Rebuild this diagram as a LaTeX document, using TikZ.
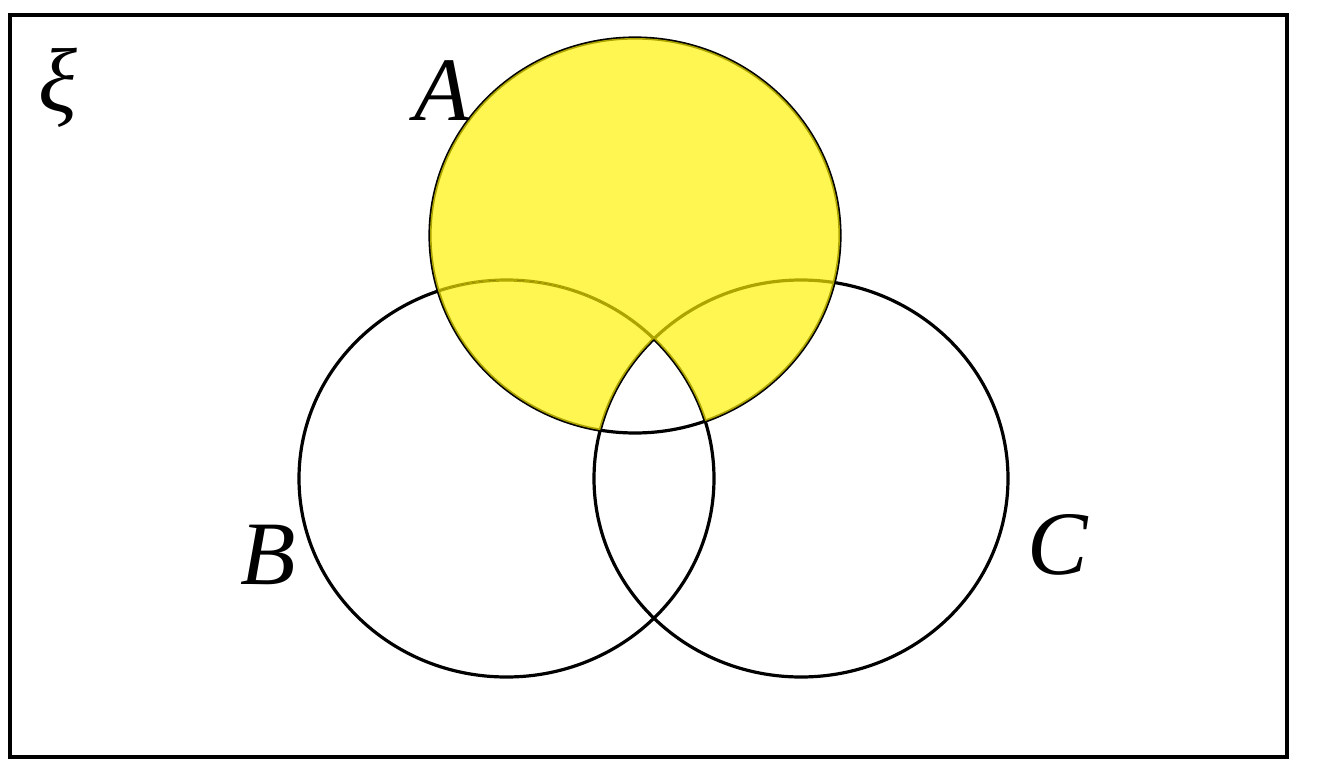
\documentclass[tikz,border=0pt]{standalone}
\usepackage{fontspec}
\setmainfont{Liberation Serif}
\begin{document}
\begin{tikzpicture}[x=0.75pt,y=-0.75pt,
  setline/.style={line width=2.4pt},
  lbl/.style={font=\fontsize{68}{70}\selectfont\itshape, inner sep=0pt},
  yfill/.style={fill=yellow, fill opacity=0.68}]
\useasboundingbox (0,0) rectangle (1334,770);
\def\pathA{(635,235.5) ellipse [x radius=205, y radius=197.5]}
\def\pathB{(506.5,478.5) ellipse [x radius=207.5, y radius=198.5]}
\def\pathC{(801,478.5) ellipse [x radius=207, y radius=198.5]}
\node[draw, line width=3pt, minimum width=1277*0.75pt, minimum height=742*0.75pt, inner sep=0pt] (U) at (648.5,386) {};
\draw[setline] \pathA;
\draw[setline] \pathB;
\draw[setline] \pathC;
% yellow region: A minus (B and C)
\begin{scope}
  \clip \pathA;
  \fill[yfill, even odd rule] (0,0) rectangle (1334,770) \pathB;
\end{scope}
\begin{scope}
  \clip \pathA;
  \clip \pathB;
  \fill[yfill, even odd rule] (0,0) rectangle (1334,770) \pathC;
\end{scope}
\node[lbl] (xi) at (58,88) {ξ};
\node[lbl] (la) at (442,91) {A};
\node[lbl] (lb) at (268,555) {B};
\node[lbl] (lc) at (1058,545) {C};
\end{tikzpicture}
\end{document}
